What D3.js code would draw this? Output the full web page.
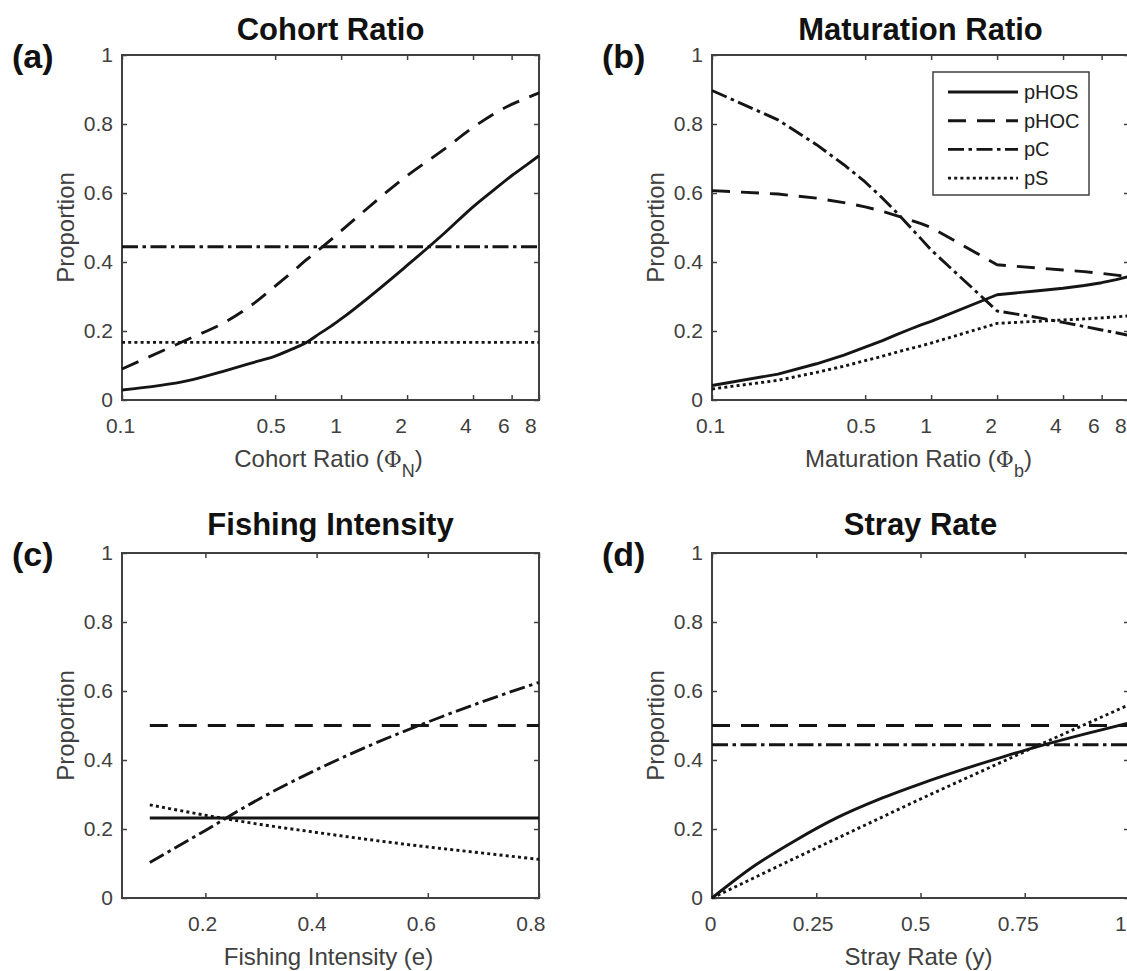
<!DOCTYPE html>
<html><head><meta charset="utf-8">
<script src="https://cdn.jsdelivr.net/npm/d3@7"></script>
<style>body{margin:0;background:#fff}</style>
</head><body>
<svg id="c" width="1127" height="971"></svg>
<script>
// ---------- data ----------
const seriesNames = ["pHOS", "pHOC", "pC", "pS"];

const cohortX    = [0.1,0.2,0.3,0.4,0.5,0.6,0.7,0.8,0.9,1,2,3,4,5,6,7,8];
const cohortPHOS = [0.029,0.056,0.086,0.109,0.127,0.148,0.168,0.193,0.214,0.235,0.39,0.487,0.56,0.61,0.65,0.681,0.708];
const cohortPHOC = [0.09,0.176,0.228,0.28,0.33,0.372,0.408,0.438,0.465,0.49,0.65,0.73,0.79,0.83,0.857,0.875,0.89];
const cohortConstX = [0.1, 8];
const cohortPC   = [0.444, 0.444];
const cohortPS   = [0.167, 0.167];

const matX    = [0.1,0.2,0.3,0.4,0.5,0.6,0.7,0.8,0.9,1,2,3,4,5,6,7,8];
const matPHOS = [0.042,0.075,0.105,0.13,0.153,0.172,0.19,0.205,0.218,0.228,0.305,0.316,0.324,0.332,0.34,0.349,0.358];
const matPHOC = [0.607,0.597,0.585,0.572,0.56,0.547,0.534,0.522,0.511,0.5,0.392,0.383,0.377,0.372,0.367,0.362,0.357];
const matPC   = [0.897,0.812,0.74,0.682,0.632,0.585,0.542,0.502,0.467,0.435,0.258,0.24,0.225,0.213,0.203,0.195,0.187];
const matPS   = [0.032,0.057,0.08,0.098,0.114,0.127,0.139,0.149,0.157,0.165,0.222,0.228,0.232,0.235,0.238,0.241,0.244];

const fishX    = [0.1,0.2,0.3,0.4,0.5,0.6,0.7,0.8];
const fishConstX = [0.1, 0.8];
const fishPHOS = [0.232, 0.232];
const fishPHOC = [0.5, 0.5];
const fishPC   = [0.103,0.196,0.29,0.372,0.445,0.51,0.57,0.625];
const fishPS   = [0.27,0.24,0.213,0.19,0.168,0.148,0.13,0.112];

const strayX    = [0,0.1,0.2,0.3,0.4,0.5,0.6,0.7,0.8,0.9,1];
const strayPHOS = [0,0.092,0.167,0.233,0.286,0.331,0.372,0.41,0.445,0.477,0.507];
const strayPS   = [0,0.058,0.116,0.173,0.23,0.287,0.342,0.397,0.452,0.506,0.56];
const strayConstX = [0, 1];
const strayPHOC = [0.5, 0.5];
const strayPC   = [0.444, 0.444];

const yTicks = [0,0.2,0.4,0.6,0.8,1];
const yTickLabels = ["0","0.2","0.4","0.6","0.8","1"];
const logTicks = [0.1,0.5,1,2,4,6,8];
const logTickLabels = ["0.1","0.5","1","2","4","6","8"];
const fishTicks = [0.2,0.4,0.6,0.8];
const fishTickLabels = ["0.2","0.4","0.6","0.8"];
const strayTicks = [0,0.25,0.5,0.75,1];
const strayTickLabels = ["0","0.25","0.5","0.75","1"];

// ---------- styling ----------
const FONT = '"Liberation Sans", Arial, Helvetica, sans-serif';
const AXC = "#404040";
const LC = "#151515";
const LW = 2.9;
const dashes = { pHOS: null, pHOC: "18,11", pC: "16,4.5,3.5,4.5", pS: "3,3.2" };

const svg = d3.select("#c");
svg.append("rect").attr("width",1127).attr("height",971).attr("fill","#fff");

function drawPanel(cfg) {
  const {left, top, w, h} = cfg;
  const g = svg.append("g");
  const x = cfg.log ? d3.scaleLog().domain(cfg.xDomain).range([left, left+w])
                    : d3.scaleLinear().domain(cfg.xDomain).range([left, left+w]);
  const y = d3.scaleLinear().domain([0,1]).range([top+h, top]);

  const bottom = d3.axisBottom(x).tickValues(cfg.xTicks).tickFormat((d,i)=>cfg.xLabels[i])
      .tickSizeInner(-5).tickSizeOuter(0).tickPadding(18);
  const topAx = d3.axisTop(x).tickValues(cfg.xTicks).tickFormat("").tickSizeInner(-5).tickSizeOuter(0);
  const leftAx = d3.axisLeft(y).tickValues(yTicks).tickFormat((d,i)=>yTickLabels[i])
      .tickSizeInner(-5).tickSizeOuter(0).tickPadding(9);
  const rightAx = d3.axisRight(y).tickValues(yTicks).tickFormat("").tickSizeInner(-5).tickSizeOuter(0);

  const axB = g.append("g").attr("transform",`translate(0,${top+h})`).call(bottom);
  const axes = [
    axB,
    g.append("g").attr("transform",`translate(0,${top})`).call(topAx),
    g.append("g").attr("transform",`translate(${left},0)`).call(leftAx),
    g.append("g").attr("transform",`translate(${left+w},0)`).call(rightAx)
  ];
  axes.forEach(a => {
    a.select(".domain").remove();
    a.selectAll(".tick line").attr("stroke", AXC).attr("stroke-width", 1.5);
    a.selectAll(".tick text").attr("fill", AXC).style("font-family", FONT).style("font-size", "21px");
  });
  // text layer in the reference sits slightly compressed toward the left axis
  axB.selectAll(".tick text").attr("dx", d => -2 - (x(d) - left) * 0.016);

  g.append("rect").attr("x",left).attr("y",top).attr("width",w).attr("height",h)
    .attr("fill","none").attr("stroke",AXC).attr("stroke-width",2);

  const line = d3.line().x(d=>x(d[0])).y(d=>y(d[1])).curve(cfg.smooth ? d3.curveMonotoneX : d3.curveLinear);
  cfg.series.forEach(s => {
    const pts = s.x.map((v,i)=>[v, s.y[i]]);
    g.append("path").attr("d", line(pts)).attr("fill","none").attr("stroke",LC)
      .attr("stroke-width",LW).attr("stroke-dasharray", dashes[s.name])
      .attr("stroke-linejoin","round");
  });

  g.append("text").attr("x", left+w/2).attr("y", top-cfg.titleGap).attr("text-anchor","middle")
    .style("font-family",FONT).style("font-weight","bold").style("font-size","31px")
    .attr("fill","#111").text(cfg.title);
  g.append("text").attr("x", left-110).attr("y", top+13)
    .style("font-family",FONT).style("font-weight","bold").style("font-size","34px")
    .attr("fill","#111").text(cfg.letter);
  g.append("text").attr("transform",`translate(${left-57},${top+h/2}) rotate(-90)`)
    .attr("text-anchor","middle").attr("dominant-baseline","central")
    .style("font-family",FONT).style("font-size","24px").attr("fill",AXC).text("Proportion");
  const xl = g.append("text").attr("x", left+w/2 - 2).attr("y", top+h+67).attr("text-anchor","middle")
    .style("font-family",FONT).style("font-size","24px").attr("fill",AXC);
  xl.append("tspan").text(cfg.xlabel);
  if (cfg.sub) {
    xl.append("tspan").style("font-family",'"DejaVu Serif", serif').style("font-size","22px").text("Φ");
    xl.append("tspan").attr("dy", 10).style("font-size","18px").text(cfg.sub);
    xl.append("tspan").attr("dy", -10).text(")");
  }

  if (cfg.legend) {
    const L = cfg.legend;
    g.append("rect").attr("x",L.x).attr("y",L.y).attr("width",L.w).attr("height",L.h)
      .attr("fill","#fff").attr("stroke",AXC).attr("stroke-width",1.5);
    seriesNames.forEach((n,i) => {
      const yy = L.y + 20 + i*28.7;
      g.append("line").attr("x1",L.x+15).attr("x2",L.x+85).attr("y1",yy).attr("y2",yy)
        .attr("stroke",LC).attr("stroke-width",LW).attr("stroke-dasharray",dashes[n]);
      g.append("text").attr("x",L.x+91).attr("y",yy).attr("dominant-baseline","central")
        .style("font-family",FONT).style("font-size","20px").attr("fill","#222").text(n);
    });
  }
}

const PW = 417, PH = 345;
drawPanel({left:122, top:55, w:PW, h:PH, log:true, smooth:true, xDomain:[0.1,8], xTicks:logTicks, xLabels:logTickLabels,
  title:"Cohort Ratio", titleGap:15, letter:"(a)", xlabel:"Cohort Ratio (", sub:"N",
  series:[
    {name:"pHOS", x:cohortX, y:cohortPHOS},
    {name:"pHOC", x:cohortX, y:cohortPHOC},
    {name:"pC", x:cohortConstX, y:cohortPC},
    {name:"pS", x:cohortConstX, y:cohortPS}
  ]});
drawPanel({left:712, top:55, w:PW, h:PH, log:true, smooth:false, xDomain:[0.1,8], xTicks:logTicks, xLabels:logTickLabels,
  title:"Maturation Ratio", titleGap:15, letter:"(b)", xlabel:"Maturation Ratio (", sub:"b",
  series:[
    {name:"pHOS", x:matX, y:matPHOS},
    {name:"pHOC", x:matX, y:matPHOC},
    {name:"pC", x:matX, y:matPC},
    {name:"pS", x:matX, y:matPS}
  ],
  legend:{x:933, y:72, w:156, h:123}});
drawPanel({left:122, top:553, w:PW, h:PH, log:false, smooth:true, xDomain:[0.05,0.8], xTicks:fishTicks, xLabels:fishTickLabels,
  title:"Fishing Intensity", titleGap:18, letter:"(c)", xlabel:"Fishing Intensity (e)",
  series:[
    {name:"pHOS", x:fishConstX, y:fishPHOS},
    {name:"pHOC", x:fishConstX, y:fishPHOC},
    {name:"pC", x:fishX, y:fishPC},
    {name:"pS", x:fishX, y:fishPS}
  ]});
drawPanel({left:712, top:553, w:PW, h:PH, log:false, smooth:true, xDomain:[0,1], xTicks:strayTicks, xLabels:strayTickLabels,
  title:"Stray Rate", titleGap:18, letter:"(d)", xlabel:"Stray Rate (y)",
  series:[
    {name:"pHOS", x:strayX, y:strayPHOS},
    {name:"pHOC", x:strayConstX, y:strayPHOC},
    {name:"pC", x:strayConstX, y:strayPC},
    {name:"pS", x:strayX, y:strayPS}
  ]});
</script>
</body></html>
